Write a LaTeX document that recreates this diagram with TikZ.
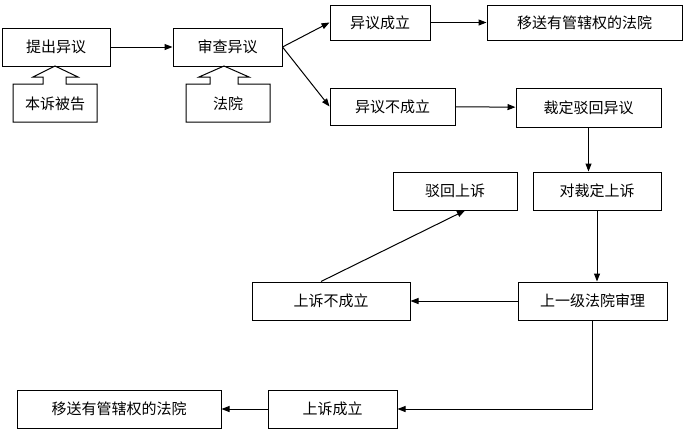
\documentclass[tikz,border=0pt]{standalone}
\usepackage{fontspec}
\setmainfont{Noto Sans CJK SC}
\usetikzlibrary{arrows.meta}
\begin{document}
\begin{tikzpicture}[x=1pt,y=-1pt,line width=1pt,
  box/.style={draw,rectangle,inner sep=0pt,font=\fontsize{15}{15}\selectfont},
  arr/.style={-{Triangle[length=8pt,width=6pt]}}]
\useasboundingbox (0,0) rectangle (692,429);
\newcommand{\bx}[6]{\node[box,minimum width=#4-#2,minimum height=#5-#3] (#1) at ({(#2+#4)/2},{(#3+#5)/2}) {#6};}
\bx{tc}{2}{28}{110}{66}{提出异议}
\bx{sc}{173}{28}{282}{66}{审查异议}
\bx{cl}{330}{5}{430}{40}{异议成立}
\bx{ys1}{487}{5}{682}{40}{移送有管辖权的法院}
\bx{bcl}{330}{88}{455}{125}{异议不成立}
\bx{cd}{516}{88}{661}{127}{裁定驳回异议}
\bx{bh}{393}{172}{517}{210}{驳回上诉}
\bx{dc}{533}{172}{661}{210}{对裁定上诉}
\bx{sbc}{252}{282}{410}{320}{上诉不成立}
\bx{syj}{518}{282}{667}{320}{上一级法院审理}
\bx{ys2}{17}{390}{221}{428}{移送有管辖权的法院}
\bx{scl}{268}{390}{397}{428}{上诉成立}
% hollow-arrow boxes
\draw (55,66) -- (78,77) -- (66,77) -- (66,84) -- (97,84) -- (97,122) -- (13,122) -- (13,84) -- (43,84) -- (43,77) -- (33,77) -- cycle;
\node[font=\fontsize{15}{15}\selectfont] (bg) at (55,104) {本诉被告};
\draw (224,66) -- (249,77) -- (238,77) -- (238,84) -- (270,84) -- (270,122) -- (186,122) -- (186,84) -- (210,84) -- (210,77) -- (199,77) -- cycle;
\node[font=\fontsize{15}{15}\selectfont] (fy) at (228,104) {法院};
\draw[arr] (tc) -- (sc);
\draw[arr] (sc.east) -- (cl.west);
\draw[arr] (sc.east) -- (bcl.west);
\draw[arr] (cl) -- (ys1);
\draw[arr] (bcl) -- (cd);
\draw[arr] (cd.south) -- (cd.south|-dc.north);
\draw[arr] (dc.south) -- (dc.south|-syj.north);
\draw[arr] (syj) -- (sbc);
\draw[arr] ([xshift=-10pt]sbc.north) -- ([xshift=10pt]bh.south);
\coordinate (c1) at (syj.south|-scl.east);
\draw[arr] (syj.south) -- (c1) -- (scl.east);
\draw[arr] (scl) -- (ys2);
\end{tikzpicture}
\end{document}
